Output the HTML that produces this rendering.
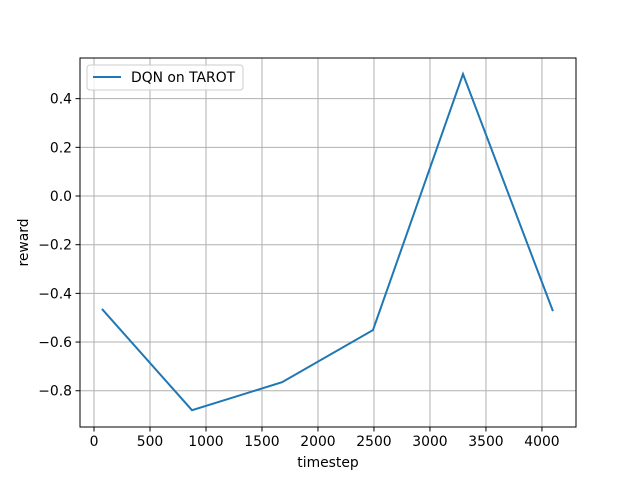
<!DOCTYPE html>
<html><head><meta charset="utf-8"><style>body{margin:0;background:#fff}svg{display:block;font-family:"DejaVu Sans","Liberation Sans",sans-serif}</style></head>
<body>
<svg id="chart" width="640" height="480"></svg>
<script>
const timesteps = [71, 875, 1679, 2491, 3295, 4098];
const rewards = [-0.464, -0.880, -0.765, -0.551, 0.501, -0.473];
const xTicks = [0, 500, 1000, 1500, 2000, 2500, 3000, 3500, 4000];
const yTicks = [-0.8, -0.6, -0.4, -0.2, 0.0, 0.2, 0.4];
const seriesLabel = "DQN on TAROT";

const L=80,R=576,T=58,B=427;
const xMin=-125,xMax=4304,yMin=-0.949,yMax=0.567;
const sx=v=>L+(v-xMin)/(xMax-xMin)*(R-L);
const sy=v=>B-(v-yMin)/(yMax-yMin)*(B-T);
const svg=document.getElementById('chart');
const NS='http://www.w3.org/2000/svg';
function mk(tag,attrs,parent){const e=document.createElementNS(NS,tag);for(const k in attrs)e.setAttribute(k,attrs[k]);(parent||svg).appendChild(e);return e;}

xTicks.forEach(t=>{const x=sx(t);
 const g=mk('line',{x1:x,x2:x,y1:T,y2:B,stroke:'#b0b0b0','stroke-width':1});
 
 
 mk('line',{x1:x,x2:x,y1:B,y2:B+4.5,stroke:'#000','stroke-width':1});
 const tx=mk('text',{x:x,y:B+19,'text-anchor':'middle','font-size':13.9});tx.textContent=t;
 
 
});
yTicks.forEach(t=>{const y=sy(t);
 const g=mk('line',{x1:L,x2:R,y1:y,y2:y,stroke:'#b0b0b0','stroke-width':1});
 
 
 mk('line',{x1:L-4.5,x2:L,y1:y,y2:y,stroke:'#000','stroke-width':1});
 const tx=mk('text',{x:L-8,y:y+5,'text-anchor':'end','font-size':13.9});tx.textContent=(t<0?'\u2212':'')+Math.abs(t).toFixed(1);
 
 
});
const pts=timesteps.map((v,i)=>sx(v)+','+sy(rewards[i])).join(' ');
const line=mk('polyline',{points:pts,fill:'none',stroke:'#1f77b4','stroke-width':2});


const fr=mk('rect',{x:L,y:T,width:R-L,height:B-T,fill:'none',stroke:'#000','stroke-width':1});


const xl=mk('text',{x:(L+R)/2,y:467,'text-anchor':'middle','font-size':13.9});xl.textContent='timestep';


const yl=mk('text',{x:0,y:0,'text-anchor':'middle','font-size':13.9,transform:'translate(28,'+((T+B)/2)+') rotate(-90)'});yl.textContent='reward';


const lg=mk('g',{});


mk('rect',{x:87,y:65,width:156,height:25,rx:3,fill:'#fff','fill-opacity':0.8,stroke:'#ccc','stroke-width':1},lg);
mk('line',{x1:93,x2:121,y1:77,y2:77,stroke:'#1f77b4','stroke-width':2},lg);
const lt=mk('text',{x:131,y:82,'font-size':13.9},lg);lt.textContent=seriesLabel;


</script>
</body></html>
